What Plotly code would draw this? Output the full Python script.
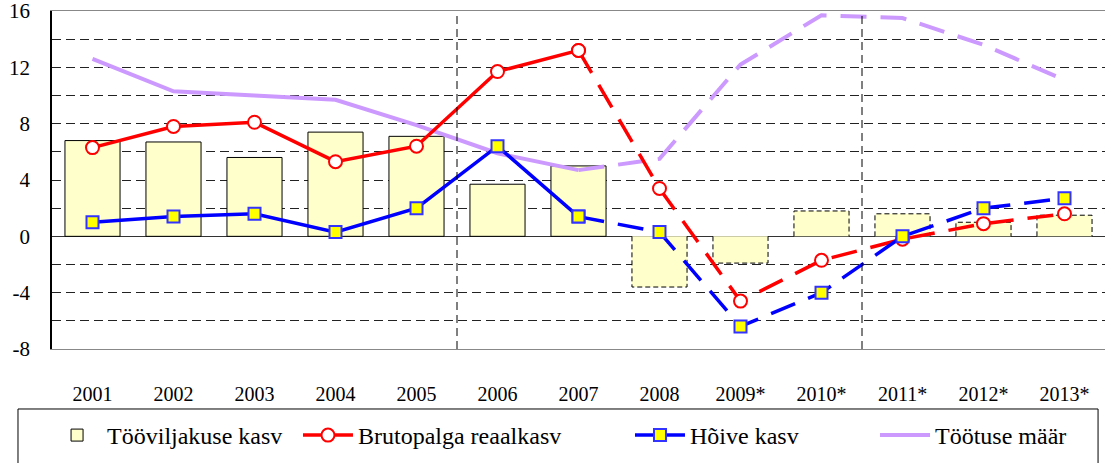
import plotly.graph_objects as go

years = ["2001", "2002", "2003", "2004", "2005", "2006", "2007",
         "2008", "2009*", "2010*", "2011*", "2012*", "2013*"]
tootlikkus = [6.8, 6.7, 5.6, 7.4, 7.1, 3.7, 5.0, -3.6, -1.9, 1.8, 1.6, 1.0, 1.5]
palk = [6.3, 7.8, 8.1, 5.3, 6.4, 11.7, 13.2, 3.4, -4.6, -1.7, -0.2, 0.9, 1.6]
hoive = [1.0, 1.4, 1.6, 0.3, 2.0, 6.4, 1.4, 0.3, -6.4, -4.0, 0.0, 2.0, 2.7]
tootus = [12.6, 10.3, 10.0, 9.7, 7.9, 5.9, 4.7, 5.5, 12.2, 15.7, 15.5, 13.6, 11.1]
y_ticks = [-8, -4, 0, 4, 8, 12, 16]
y_ticklabels = ["-8", "-4", "0", "4", "8", "12", "16"]

names = ["Tööviljakuse kasv", "Brutopalga reaalkasv", "Hõive kasv", "Töötuse määr"]
n_actual = 7  # 2001-2007 actual, afterwards forecast (dashed)
xs = list(range(len(years)))
half = 0.34
FONT = "Liberation Serif"

fig = go.Figure()

# bars
fig.add_trace(go.Bar(
    x=xs, y=tootlikkus, width=2 * half, name=names[0],
    marker=dict(color="#FFFFCC",
                line=dict(color="#000000",
                          width=[1] * n_actual + [0] * (len(xs) - n_actual))),
    legend="legend",
))
# dashed outlines for forecast bars
ox, oy = [], []
for i in range(n_actual, len(xs)):
    v = tootlikkus[i]
    ox += [i - half, i - half, i + half, i + half, None]
    oy += [0, v, v, 0, None]
fig.add_trace(go.Scatter(x=ox, y=oy, mode="lines", showlegend=False, hoverinfo="skip",
                         line=dict(color="#000000", width=1, dash="5px,3px")))

DASH = "26px,14px"

def add_series(vals, name, color, width, marker, legend):
    fig.add_trace(go.Scatter(
        x=xs[:n_actual], y=vals[:n_actual], name=name,
        mode="lines+markers" if marker else "lines",
        line=dict(color=color, width=width), marker=marker or None,
        legend=legend, legendgroup=name))
    fig.add_trace(go.Scatter(
        x=xs[n_actual - 1:], y=vals[n_actual - 1:], name=name,
        mode="lines+markers" if marker else "lines",
        line=dict(color=color, width=width, dash=DASH), marker=marker or None,
        legend=legend, showlegend=False, legendgroup=name))

add_series(tootus, names[3], "#CC99FF", 4, None, "legend4")
add_series(palk, names[1], "#FF0000", 3.5,
           dict(symbol="circle", size=13, color="#FFFFFF",
                line=dict(color="#FF0000", width=2)), "legend2")
add_series(hoive, names[2], "#0000FF", 3.5,
           dict(symbol="square", size=12, color="#FFFF00",
                line=dict(color="#3333FF", width=2)), "legend3")

# vertical separators
for xv in (4.5, 9.5):
    fig.add_shape(type="line", xref="x", yref="y", x0=xv, x1=xv, y0=-8, y1=16,
                  line=dict(color="#000000", width=1, dash="8px,5px"))

# legend frame
fig.add_shape(type="rect", xref="paper", yref="paper",
              x0=-0.0323, x1=0.9934, y0=-0.1775, y1=-0.40,
              line=dict(color="#000000", width=1), fillcolor="rgba(0,0,0,0)")

LEG_Y = -0.1893
def leg(x):
    return dict(orientation="h", x=x, y=LEG_Y, xanchor="left", yanchor="top",
                borderwidth=0, bgcolor="rgba(0,0,0,0)",
                font=dict(family=FONT, size=24), itemwidth=50)

fig.update_layout(
    width=1107, height=463,
    margin=dict(l=52, r=2, t=11, b=114, autoexpand=False),
    paper_bgcolor="white", plot_bgcolor="white",
    font=dict(family=FONT, size=20, color="#000000"),
    barmode="overlay",
    showlegend=True,
    legend=leg(-0.0047), legend2=leg(0.2336), legend3=leg(0.5489), legend4=leg(0.7816),
)
fig.update_xaxes(
    range=[-0.5, 12.5], tickvals=xs, ticktext=years,
    showgrid=False, zeroline=False, automargin=False,
    showline=True, linecolor="#888888", linewidth=1, mirror=True,
    ticks="outside", ticklen=27, tickcolor="rgba(0,0,0,0)",
    tickfont=dict(family=FONT, size=20),
)
fig.update_yaxes(
    range=[-8, 16], tickvals=y_ticks, ticktext=y_ticklabels, automargin=False,
    ticklabeloverflow="allow",
    showgrid=True, gridcolor="#222222", gridwidth=1, griddash="9px,5px",
    minor=dict(dtick=2, tick0=0, showgrid=True, gridcolor="#222222", gridwidth=1,
               griddash="9px,5px"),
    zeroline=True, zerolinecolor="#333333", zerolinewidth=1,
    showline=True, linecolor="#000000", linewidth=1.5,
    ticks="outside", ticklen=16, tickcolor="rgba(0,0,0,0)",
    tickfont=dict(family=FONT, size=21),
)

fig.write_html("out.html", config={"displayModeBar": False},
               post_script="document.body.style.margin='0';")
